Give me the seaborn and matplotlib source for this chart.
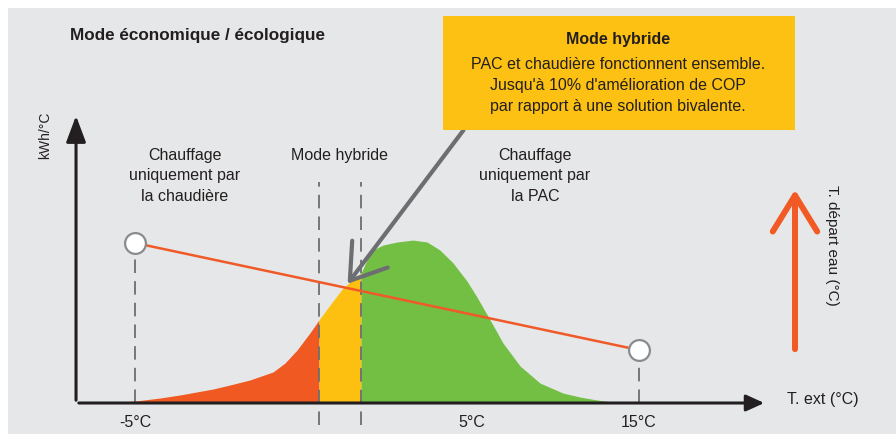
import numpy as np
import pandas as pd
import matplotlib
matplotlib.use("Agg")
import matplotlib.pyplot as plt
import seaborn as sns
from matplotlib.patches import Rectangle, FancyArrowPatch

# Courbe de besoin de chauffage (kWh/°C) en fonction de T. ext (schéma)
courbe_t = [-6.27, -5.00, -4.01, -3.21, -1.90, -1.23, -0.44, 0.48, 0.95, 1.43,
            1.94, 2.30, 2.74, 3.25, 3.97, 4.17, 4.44, 4.84, 5.40, 6.03,
            6.59, 7.10, 7.62, 8.17, 8.57, 9.09, 9.60, 10.28, 11.07, 11.98,
            12.66, 13.33, 14.25]
courbe_kwh = [0.0, 1.2, 3.1, 5.0, 8.7, 11.2, 14.3, 19.3, 24.8, 32.9,
              43.5, 51.6, 60.9, 71.4, 80.7, 87.6, 95.0, 98.1, 100.0, 101.2,
              100.0, 95.0, 87.0, 75.8, 65.8, 51.6, 37.3, 23.0, 12.4, 6.2,
              3.7, 1.9, 0.0]

# Limites du mode hybride
hybride_min = 2.30
hybride_max = 3.97

# Loi d'eau (T. départ eau)
eau_t = [-5, 15]
eau_val = [99.4, 32.9]

# Graduations de l'axe T. ext
tick_pos = [-5, 8.37, 15]
tick_labels = ["-5°C", "5°C", "15°C"]

# Couleurs
c_chaudiere = "#f05a22"
c_hybride = "#fdc010"
c_pac = "#72bf44"
c_fond = "#e6e7e8"
c_texte = "#231f20"
c_gris = "#6d6e71"

sns.set_theme(style="white")
plt.rcParams["font.family"] = ["Liberation Sans", "DejaVu Sans"]

fig = plt.figure(figsize=(8.96, 4.34), dpi=100)
fig.patch.set_facecolor("white")
fig.patches.append(Rectangle((8 / 896, 0), 1, 426 / 434, transform=fig.transFigure,
                             facecolor=c_fond, edgecolor="none", zorder=-10))

ax = fig.add_axes([0, 0, 1, 1])
ax.set_facecolor("none")
ax.set_xlim(-10.357, 25.198)
ax.set_ylim(-19.25, 250.3)
ax.axis("off")

df = pd.DataFrame({"t": courbe_t, "kwh": courbe_kwh})
x = df["t"].values
y = df["kwh"].values
ax.fill_between(x, 0, y, where=x <= hybride_min, color=c_chaudiere, lw=0, zorder=2)
ax.fill_between(x, 0, y, where=(x >= hybride_min) & (x <= hybride_max), color=c_hybride, lw=0, zorder=2)
ax.fill_between(x, 0, y, where=x >= hybride_max, color=c_pac, lw=0, zorder=2)

# pointillés
dash = (7.5, 4.5)
for xv in [hybride_min, hybride_max]:
    ax.plot([xv, xv], [-13.7, 137.3], color=c_gris, lw=1.3, dashes=dash, zorder=3)
ax.plot([eau_t[0], eau_t[0]], [0, eau_val[0]], color=c_gris, lw=1.3, dashes=dash, zorder=3)
ax.plot([eau_t[1], eau_t[1]], [0, eau_val[1]], color=c_gris, lw=1.3, dashes=dash, zorder=3)

# loi d'eau
sns.lineplot(x=eau_t, y=eau_val, ax=ax, color="#f05a28", lw=1.8, zorder=4)
ax.plot(eau_t, eau_val, ls="none", marker="o", ms=15, mfc="white", mec="#8a8b8d",
        mew=1.6, zorder=5)

# axes avec flèches
ax.add_patch(FancyArrowPatch((-7.34, 0), (20.08, 0), arrowstyle="-|>,head_length=1.1,head_width=0.5",
                             mutation_scale=10, color=c_texte, lw=2.2, zorder=6))
ax.add_patch(FancyArrowPatch((-7.34, 0), (-7.34, 180.1), arrowstyle="-|>,head_length=1.6,head_width=0.6",
                             mutation_scale=10, color=c_texte, lw=2.2, zorder=6))

# encadré jaune
ax.add_patch(Rectangle((7.22, 169.6), 13.97, 70.8, facecolor="#fdc113", edgecolor="none", zorder=7))
ax.add_patch(FancyArrowPatch((8.10, 170.8), (3.37, 72.7), arrowstyle="->,head_length=2.4,head_width=1.6",
                             mutation_scale=10, color=c_gris, lw=3, zorder=6))

# flèche T. départ eau
ax.add_patch(FancyArrowPatch((21.19, 31.7), (21.19, 134.2), arrowstyle="->,head_length=2.6,head_width=1.6",
                             mutation_scale=10, color="#f15a24", lw=4.3, zorder=6))

# textes
ax.text(-7.58, 228, "Mode économique / écologique", fontsize=12.3, fontweight="bold",
        color=c_texte, ha="left", va="center")
ax.text(-8.55, 166.5, "kWh/°C", fontsize=10, rotation=90, color=c_texte, ha="center", va="center")
ax.text(-3.02, 141, "Chauffage\nuniquement par\nla chaudière", fontsize=11.5, color=c_texte,
        ha="center", va="center", linespacing=1.45)
ax.text(3.13, 154, "Mode hybride", fontsize=11.5, color=c_texte, ha="center", va="center")
ax.text(10.87, 141, "Chauffage\nuniquement par\nla PAC", fontsize=11.5, color=c_texte,
        ha="center", va="center", linespacing=1.45)

ax.text(14.17, 226, "Mode hybride", fontsize=11.5, fontweight="bold", color=c_texte,
        ha="center", va="center", zorder=8)
ax.text(14.17, 197.5, "PAC et chaudière fonctionnent ensemble.\nJusqu'à 10% d'amélioration de COP\npar rapport à une solution bivalente.",
        fontsize=11.5, color=c_texte, ha="center", va="center", linespacing=1.5, zorder=8)

ax.text(22.66, 98, "T. départ eau (°C)", fontsize=11, rotation=-90, color=c_texte,
        ha="center", va="center")
ax.text(20.87, 1.9, "T. ext (°C)", fontsize=11.5, color=c_texte, ha="left", va="center")

for p, lab in zip(tick_pos, tick_labels):
    ax.text(p, -12.4, lab, fontsize=11.5, color=c_texte, ha="center", va="center")

fig.savefig("out.png", dpi=100)
